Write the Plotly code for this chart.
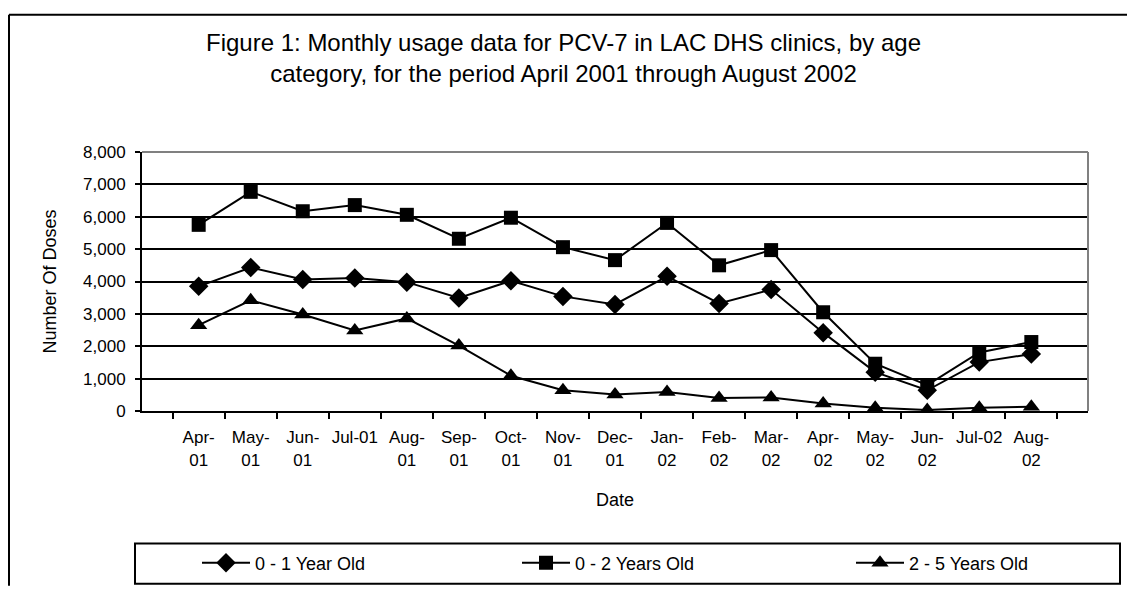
import plotly.graph_objects as go

# month labels as shown on the x axis
months = ["Apr-<br>01", "May-<br>01", "Jun-<br>01", "Jul-01", "Aug-<br>01", "Sep-<br>01",
          "Oct-<br>01", "Nov-<br>01", "Dec-<br>01", "Jan-<br>02", "Feb-<br>02", "Mar-<br>02",
          "Apr-<br>02", "May-<br>02", "Jun-<br>02", "Jul-02", "Aug-<br>02"]

age_0_1 = [3850, 4430, 4060, 4110, 3980, 3490, 4020, 3540, 3290, 4160, 3320, 3750,
           2420, 1200, 640, 1510, 1760]
age_0_2 = [5750, 6770, 6170, 6360, 6060, 5320, 5970, 5060, 4660, 5810, 4500, 4970,
           3050, 1460, 800, 1810, 2130]
age_2_5 = [2650, 3420, 2980, 2490, 2860, 2020, 1090, 640, 510, 590, 400, 420,
           230, 100, 30, 100, 130]

FONT = "Liberation Sans, Arial, sans-serif"

# plot area in page pixels
L, R, T, B = 142, 1088, 152, 416
W, H = R - L, B - T


def px(x):
    return (x - L) / W


def py(y):
    return (B - y) / H


fig = go.Figure()

fig.add_trace(go.Scatter(x=months, y=age_0_1, name="0 - 1 Year Old", mode="lines+markers",
                         line=dict(color="black", width=2), legend="legend",
                         marker=dict(symbol="diamond", size=15, color="black")))
fig.add_trace(go.Scatter(x=months, y=age_0_2, name="0 - 2 Years Old", mode="lines+markers",
                         line=dict(color="black", width=2), legend="legend2",
                         marker=dict(symbol="square", size=14, color="black")))
fig.add_trace(go.Scatter(x=months, y=age_2_5, name="2 - 5 Years Old", mode="lines+markers",
                         line=dict(color="black", width=2), legend="legend3",
                         marker=dict(symbol="triangle-up", size=15, color="black")))

fig.update_xaxes(
    type="category", tickson="boundaries", ticks="outside", ticklen=6, tickwidth=2,
    tickcolor="black", showline=True, linecolor="black", linewidth=2, showgrid=False,
    tickangle=0, ticklabelstandoff=10,
    tickfont=dict(family=FONT, size=17, color="black"),
    title=dict(text="Date", font=dict(family=FONT, size=18, color="black"), standoff=25),
)
fig.update_yaxes(
    range=[0, 8000], dtick=1000, tickformat=",", ticks="outside", ticklen=5, tickwidth=2,
    tickcolor="black", showline=True, linecolor="black", linewidth=2,
    showgrid=True, gridcolor="black", gridwidth=2, zeroline=False, ticklabelstandoff=6,
    tickfont=dict(family=FONT, size=17, color="black"),
    title=dict(text="Number Of Doses", font=dict(family=FONT, size=18, color="black"), standoff=22),
)

leg = dict(orientation="h", xanchor="left", y=py(571), yanchor="middle",
           itemwidth=48,
           font=dict(family=FONT, size=18, color="black"),
           bgcolor="rgba(0,0,0,0)", borderwidth=0)

fig.update_layout(
    width=1127, height=594,
    margin=dict(l=L, r=1127 - R, t=T, b=594 - B),
    paper_bgcolor="white", plot_bgcolor="white",
    font=dict(family=FONT, color="black"),
    showlegend=True,
    legend=dict(leg, x=px(197)),
    legend2=dict(leg, x=px(517)),
    legend3=dict(leg, x=px(851)),
    annotations=[
        dict(text="Figure 1: Monthly usage data for PCV-7 in LAC DHS clinics, by age<br>"
                  "category, for the period April 2001 through August 2002",
             xref="paper", yref="paper", x=px(563.5), y=py(56), showarrow=False,
             xanchor="center", yanchor="middle",
             font=dict(family=FONT, size=24, color="black")),
    ],
    shapes=[
        # outer chart border: top and left edges (the rest runs off the picture)
        dict(type="line", xref="paper", yref="paper",
             x0=px(9), x1=px(1127), y0=py(12), y1=py(12),
             line=dict(color="black", width=2), layer="below"),
        dict(type="line", xref="paper", yref="paper",
             x0=px(9), x1=px(9), y0=py(12), y1=py(594),
             line=dict(color="black", width=2), layer="below"),
        # plot area border (grey top and right)
        dict(type="line", xref="paper", yref="paper", x0=0, x1=1, y0=1, y1=1,
             line=dict(color="#808080", width=2), layer="above"),
        dict(type="line", xref="paper", yref="paper", x0=1, x1=1, y0=0, y1=1,
             line=dict(color="#808080", width=2), layer="above"),
        # legend box
        dict(type="rect", xref="paper", yref="paper",
             x0=px(135), x1=px(1120), y0=py(592), y1=py(551),
             line=dict(color="black", width=2), layer="below"),
    ],
)

# drop the default page margin so the figure fills the window exactly
fig.write_html("out.html", config={"displayModeBar": False},
               post_script="document.body.style.margin='0';")
